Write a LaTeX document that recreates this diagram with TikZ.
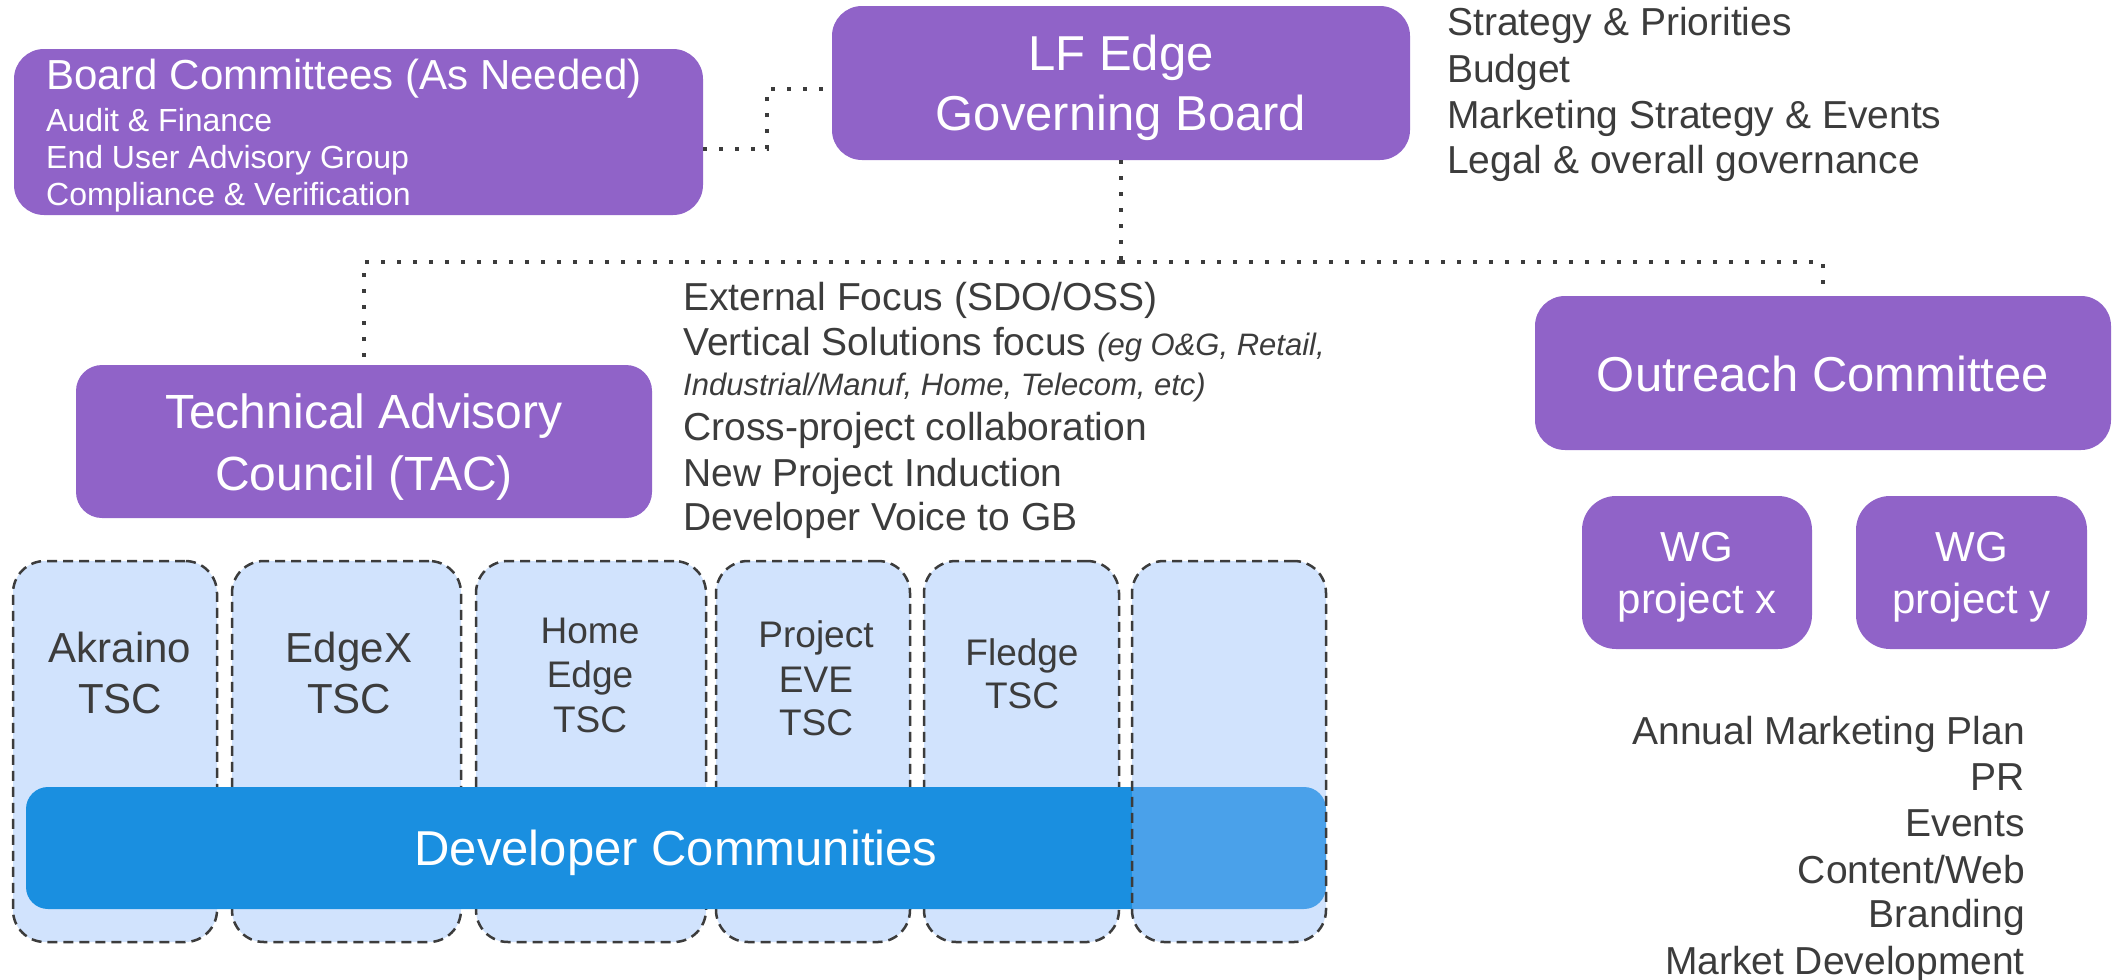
\documentclass[tikz,border=0pt]{standalone}
\usepackage{fontspec}
\setmainfont{Liberation Sans}
\definecolor{purp}{HTML}{9063C8}
\definecolor{lblue}{HTML}{D1E3FD}
\definecolor{dblue}{HTML}{1A8FE0}
\definecolor{tgray}{HTML}{3C3C3C}
\definecolor{ovl}{RGB}{143,187,250}
\newcommand\myfs[1]{\fontsize{#1}{#1}\selectfont}
\tikzset{
  pbox/.style={fill=purp, draw=none, rounded corners=30, inner sep=0},
  colbox/.style={fill=lblue, draw=tgray, line width=2.5, dash pattern=on 10 off 6, rounded corners=32, inner sep=0, minimum height=381},
  dotl/.style={draw=tgray, line width=4, dash pattern=on 4 off 12},
  wt/.style={text=white, inner sep=0, anchor=base},
  gt/.style={text=tgray, inner sep=0, anchor=base},
}
\begin{document}
\begin{tikzpicture}[x=1pt,y=-1pt]
\useasboundingbox (0,0) rectangle (2113,980);

% boxes
\node[pbox, minimum width=689, minimum height=166] (bc) at (358.5,132) {};
\node[pbox, minimum width=578, minimum height=154] (gb) at (1121,83) {};
\node[pbox, minimum width=576, minimum height=153, rounded corners=26] (tac) at (364,441.5) {};
\node[pbox, minimum width=576, minimum height=154] (oc) at (1823,373) {};
\node[pbox, minimum width=230, minimum height=153, rounded corners=34] (wgx) at (1697,572.5) {};
\node[pbox, minimum width=231, minimum height=153, rounded corners=34] (wgy) at (1971.5,572.5) {};

% connectors
\draw[dotl] ([yshift=-17pt]bc.east) -- ++(64,0) |- ([yshift=-6pt]gb.west);
\coordinate (hub) at (gb.south |- 0,262);
\draw[dotl] (gb.south) -- (hub);
\draw[dotl] (hub) -| (tac.north);
\draw[dotl] (hub) -| (oc.north);

% board committees text
\node[wt, anchor=base west, font=\myfs{42}] at (46,89) {Board Committees (As Needed)};
\node[wt, anchor=base west, font=\myfs{32}] at (46,131) {Audit \& Finance};
\node[wt, anchor=base west, font=\myfs{32}] at (46,168) {End User Advisory Group};
\node[wt, anchor=base west, font=\myfs{32}] at (46,205) {Compliance \& Verification};

% governing board text
\node[wt, font=\myfs{49}] at (1121,70) {LF Edge};
\node[wt, font=\myfs{49}] at (1121,130) {Governing Board};

\node[gt, anchor=base west, font=\myfs{39}] at (1447,35) {Strategy \& Priorities};
\node[gt, anchor=base west, font=\myfs{39}] at (1447,82) {Budget};
\node[gt, anchor=base west, font=\myfs{39}] at (1447,128) {Marketing Strategy \& Events};
\node[gt, anchor=base west, font=\myfs{39}] at (1447,173) {Legal \& overall governance};

% TAC
\node[wt, font=\myfs{48}] at (364,428) {Technical Advisory};
\node[wt, font=\myfs{48}] at (364,490) {Council (TAC)};

\node[gt, anchor=base west, font=\myfs{39}] at (683,310) {External Focus (SDO/OSS)};
\node[gt, anchor=base west, font=\myfs{39}] at (683,355) {Vertical Solutions focus {\myfs{31}\itshape (eg O\&G, Retail,}};
\node[gt, anchor=base west, font=\myfs{31}\itshape] at (683,395) {Industrial/Manuf, Home, Telecom, etc)};
\node[gt, anchor=base west, font=\myfs{39}] at (683,440) {Cross-project collaboration};
\node[gt, anchor=base west, font=\myfs{39}] at (683,486) {New Project Induction};
\node[gt, anchor=base west, font=\myfs{39}] at (683,530) {Developer Voice to GB};

% outreach
\node[wt, font=\myfs{49}] at (1823,391) {Outreach Committee};
\node[wt, font=\myfs{42}] at (1697,561) {WG};
\node[wt, font=\myfs{42}] at (1697,613) {project x};
\node[wt, font=\myfs{42}] at (1971.5,561) {WG};
\node[wt, font=\myfs{42}] at (1971.5,613) {project y};

\node[gt, anchor=base east, font=\myfs{39}] at (2025,744) {Annual Marketing Plan};
\node[gt, anchor=base east, font=\myfs{39}] at (2025,790) {PR};
\node[gt, anchor=base east, font=\myfs{39}] at (2025,836) {Events};
\node[gt, anchor=base east, font=\myfs{39}] at (2025,883) {Content/Web};
\node[gt, anchor=base east, font=\myfs{39}] at (2025,927) {Branding};
\node[gt, anchor=base east, font=\myfs{39}] at (2025,974) {Market Development};

% columns
\node[colbox, minimum width=204] (c1) at (115,751.5) {};
\node[colbox, minimum width=229] (c2) at (346.5,751.5) {};
\node[colbox, minimum width=230] (c3) at (591,751.5) {};
\node[colbox, minimum width=194] (c4) at (813,751.5) {};
\node[colbox, minimum width=195] (c5) at (1021.5,751.5) {};

\node[gt, font=\myfs{42}] at (120,662) {Akraino};
\node[gt, font=\myfs{42}] at (120,713) {TSC};
\node[gt, font=\myfs{42}] at (349,662) {EdgeX};
\node[gt, font=\myfs{42}] at (349,713) {TSC};
\node[gt, font=\myfs{37}] at (590,643) {Home};
\node[gt, font=\myfs{37}] at (590,687) {Edge};
\node[gt, font=\myfs{37}] at (590,732) {TSC};
\node[gt, font=\myfs{37}] at (816,647) {Project};
\node[gt, font=\myfs{37}] at (816,692) {EVE};
\node[gt, font=\myfs{37}] at (816,735) {TSC};
\node[gt, font=\myfs{37}] at (1022,665) {Fledge};
\node[gt, font=\myfs{37}] at (1022,708) {TSC};

% developer communities bar
\node[fill=dblue, rounded corners=22, inner sep=0, minimum width=1300, minimum height=122] (dc) at (676,848) {};
\node[wt, font=\myfs{49}] at (676,865) {Developer Communities};

% last (empty) column on top, translucent
\node[colbox, fill=ovl, fill opacity=0.41, minimum width=194] (c6) at (1229,751.5) {};
\end{tikzpicture}
\end{document}
